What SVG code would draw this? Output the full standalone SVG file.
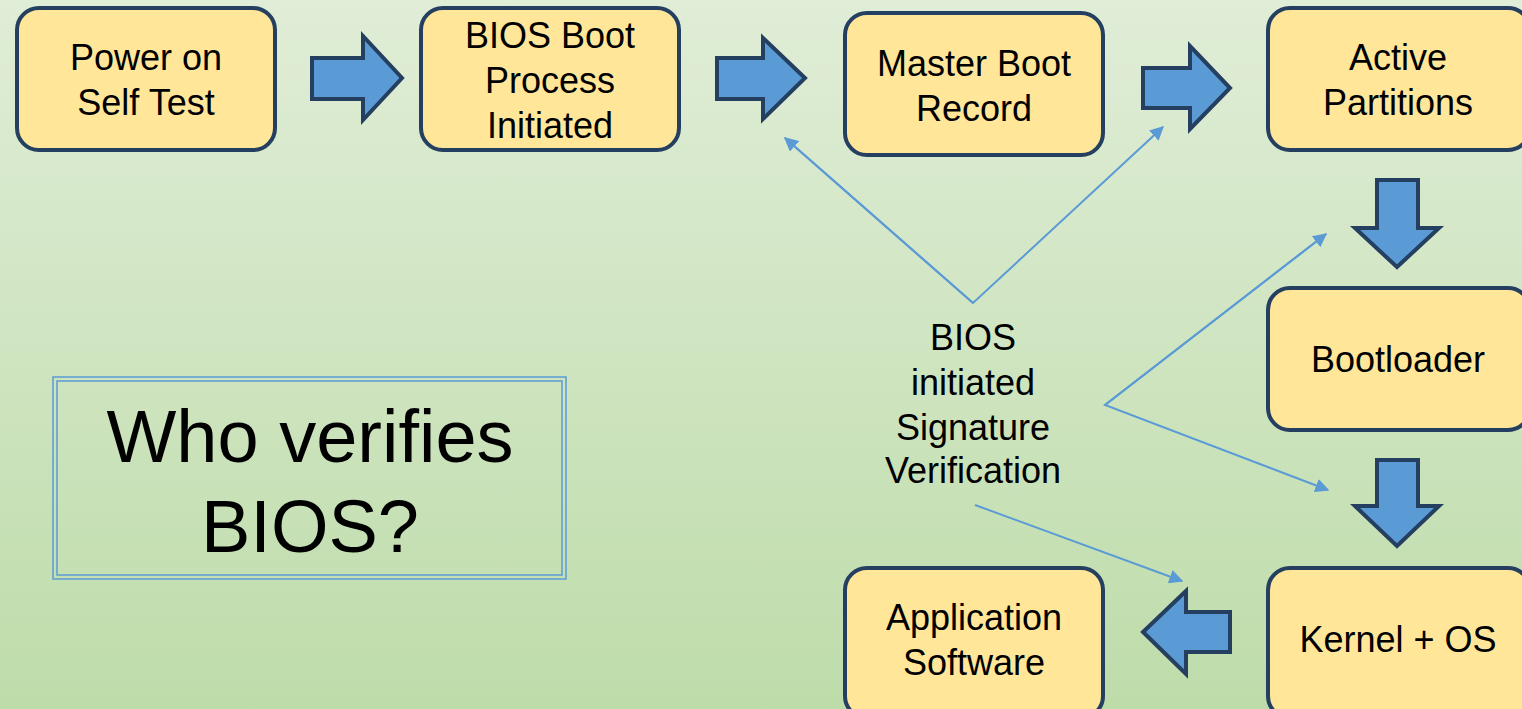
<svg xmlns="http://www.w3.org/2000/svg" width="1522" height="709" viewBox="0 0 1522 709">
<defs>
<linearGradient id="bg" x1="0" y1="0" x2="0" y2="1">
<stop offset="0" stop-color="#e0edd7"/>
<stop offset="1" stop-color="#bedcaa"/>
</linearGradient>
<marker id="ah" viewBox="0 0 10 10" refX="9" refY="5" markerWidth="7" markerHeight="7" markerUnits="strokeWidth" orient="auto">
<path d="M0,0 L10,5 L0,10 z" fill="#5b9bd5"/>
</marker>
<style>
.node{fill:#ffe699;stroke:#243f60;stroke-width:4}
.t{font-family:"Liberation Sans",Arial,sans-serif;font-size:36px;fill:#000;text-anchor:middle}
.big{font-family:"Liberation Sans",Arial,sans-serif;font-size:74px;fill:#000;text-anchor:middle}
.blk{fill:#5b9bd5;stroke:#243f60;stroke-width:4;stroke-linejoin:miter}
.thin{fill:none;stroke:#5b9bd5;stroke-width:2}
</style>
</defs>
<rect width="1522" height="709" fill="url(#bg)"/>

<g id="n1"><rect class="node" x="17" y="8" width="258" height="142" rx="22"/>
<text class="t" x="146" y="70">Power on</text><text class="t" x="146" y="115">Self Test</text></g>
<g id="n2"><rect class="node" x="421" y="8" width="258" height="142" rx="22"/>
<text class="t" x="550" y="48">BIOS Boot</text><text class="t" x="550" y="93">Process</text><text class="t" x="550" y="138">Initiated</text></g>
<g id="n3"><rect class="node" x="845" y="13" width="258" height="142" rx="22"/>
<text class="t" x="974" y="76">Master Boot</text><text class="t" x="974" y="121">Record</text></g>
<g id="n4"><rect class="node" x="1268" y="8" width="262" height="142" rx="22"/>
<text class="t" x="1398" y="70">Active</text><text class="t" x="1398" y="115">Partitions</text></g>
<g id="n5"><rect class="node" x="1268" y="288" width="262" height="142" rx="22"/>
<text class="t" x="1398" y="372">Bootloader</text></g>
<g id="n6"><rect class="node" x="1268" y="568" width="262" height="150" rx="22"/>
<text class="t" x="1398" y="652">Kernel + OS</text></g>
<g id="n7"><rect class="node" x="845" y="568" width="258" height="150" rx="22"/>
<text class="t" x="974" y="630">Application</text><text class="t" x="974" y="675">Software</text></g>

<g id="question">
<rect x="53" y="377" width="513" height="202" fill="none" stroke="#5b9bd5" stroke-width="1.5"/>
<rect x="57" y="381" width="505" height="194" fill="none" stroke="#5b9bd5" stroke-width="1.5"/>
<text class="big" x="310" y="462">Who verifies</text><text class="big" x="310" y="552">BIOS?</text>
</g>

<g id="label">
<text class="t" x="973" y="350">BIOS</text><text class="t" x="973" y="395">initiated</text><text class="t" x="973" y="440">Signature</text><text class="t" x="973" y="483">Verification</text>
</g>

<g id="connectors">
<polygon class="blk" points="312,58 363,58 363,36 402,78 363,120 363,99 312,99"/>
<polygon class="blk" points="717,58 763,58 763,38 805,78 763,119 763,99 717,99"/>
<polygon class="blk" points="1143,68 1190,68 1190,46 1230,88 1190,129 1190,108 1143,108"/>
<polygon class="blk" points="1377,180 1418,180 1418,228 1439,228 1397,267 1355,228 1377,228"/>
<polygon class="blk" points="1377,460 1418,460 1418,506 1439,506 1397,546 1355,506 1377,506"/>
<polygon class="blk" points="1230,612 1186,612 1186,591 1143,632 1186,674 1186,652 1230,652"/>
<polyline class="thin" points="785,138 973,303 1163,127" marker-end="url(#ah)"/>
<line class="thin" x1="973" y1="303" x2="785" y2="138" marker-end="url(#ah)"/>
<polyline class="thin" points="1326,234 1105,405 1328,490" marker-end="url(#ah)"/>
<line class="thin" x1="1105" y1="405" x2="1326" y2="234" marker-end="url(#ah)"/>
<line class="thin" x1="975" y1="505" x2="1182" y2="581" marker-end="url(#ah)"/>
</g>
</svg>
